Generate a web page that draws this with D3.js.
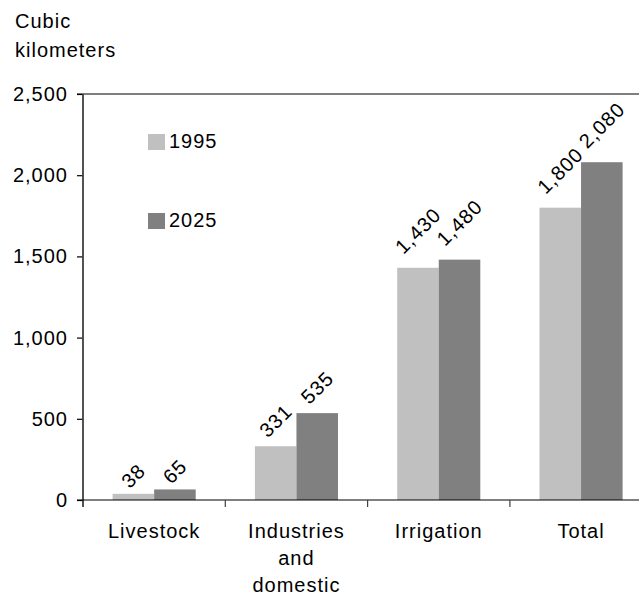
<!DOCTYPE html>
<html>
<head>
<meta charset="utf-8">
<script src="https://cdn.jsdelivr.net/npm/d3@7"></script>
<style>
  body { margin: 0; background: #fff; }
  svg text { font-family: "Liberation Sans", Arial, sans-serif; font-size: 20px; letter-spacing: 1px; fill: #000; }
</style>
</head>
<body>
<div id="chart"></div>
<script>
// data
const categories = [['Livestock'], ['Industries', 'and', 'domestic'], ['Irrigation'], ['Total']]
const years = ['1995', '2025']
const values1995 = [38, 331, 1430, 1800]
const values2025 = [65, 535, 1480, 2080]
const yTicks = [0, 500, 1000, 1500, 2000, 2500]
const colors = ['#c0c0c0', '#808080']

const width = 639
const height = 596
const margin = { top: 94, left: 83, bottom: 96 }
const bandWidth = 142.3

const svg = d3.select('#chart')
  .append('svg')
  .attr('width', width)
  .attr('height', height)

const catKeys = categories.map((d) => d.join(' '))

const x = d3.scaleBand()
  .domain(catKeys)
  .range([margin.left, margin.left + bandWidth * catKeys.length])

const x1 = d3.scaleBand()
  .domain(years)
  .range([29.6, bandWidth - 29.6])

const y = d3.scaleLinear()
  .domain([0, 2500])
  .range([height - margin.bottom, margin.top])

const fmt = d3.format(',')

// top border of plot area
svg.append('line')
  .attr('x1', margin.left - 6)
  .attr('x2', width)
  .attr('y1', y(2500))
  .attr('y2', y(2500))
  .attr('stroke', '#000')
  .attr('stroke-width', 1.2)

// bars
const rows = catKeys.map((c, i) => ({ cat: c, vals: [values1995[i], values2025[i]] }))

const groups = svg.append('g')
  .selectAll('g')
  .data(rows)
  .join('g')
  .attr('transform', (d) => `translate(${x(d.cat)},0)`)

groups.selectAll('rect')
  .data((d) => d.vals.map((v, j) => ({ year: years[j], v, j })))
  .join('rect')
  .attr('x', (d) => x1(d.year))
  .attr('width', x1.bandwidth())
  .attr('y', (d) => y(d.v))
  .attr('height', (d) => y(0) - y(d.v))
  .attr('fill', (d) => colors[d.j])

// rotated value labels
groups.selectAll('text.val')
  .data((d) => d.vals.map((v, j) => ({ year: years[j], v, j })))
  .join('text')
  .attr('class', 'val')
  .attr('text-anchor', 'middle')
  .attr('dominant-baseline', 'central')
  .text((d) => fmt(d.v))
  .each(function (d) {
    const len = this.getComputedTextLength()
    const cx = x1(d.year) + x1.bandwidth() / 2
    const cy = y(d.v) - (3 + 0.62 * len)
    d3.select(this).attr('transform', `translate(${cx},${cy}) rotate(-45)`)
  })

// y axis
const yAxis = d3.axisLeft(y)
  .tickValues(yTicks)
  .tickSize(6)
  .tickPadding(9)
  .tickFormat(fmt)

const yG = svg.append('g')
  .attr('transform', `translate(${margin.left},0)`)
  .call(yAxis)
yG.select('.domain').remove()
yG.selectAll('.tick line').attr('stroke', '#000').attr('stroke-width', 1.2)
yG.selectAll('.tick text').attr('font-size', null).attr('font-family', null)

svg.append('line')
  .attr('x1', margin.left)
  .attr('x2', margin.left)
  .attr('y1', y(2500))
  .attr('y2', y(0) + 7)
  .attr('stroke', '#404040')
  .attr('stroke-width', 1.8)

// x axis baseline and category ticks
svg.append('line')
  .attr('x1', margin.left - 6)
  .attr('x2', width)
  .attr('y1', y(0))
  .attr('y2', y(0))
  .attr('stroke', '#000')
  .attr('stroke-width', 1.2)

svg.append('g')
  .selectAll('line')
  .data(catKeys.slice(1))
  .join('line')
  .attr('x1', (d) => x(d))
  .attr('x2', (d) => x(d))
  .attr('y1', y(0))
  .attr('y2', y(0) + 7)
  .attr('stroke', '#404040')
  .attr('stroke-width', 1.2)

// category labels
svg.append('g')
  .selectAll('text')
  .data(categories)
  .join('text')
  .attr('text-anchor', 'middle')
  .attr('x', (d) => x(d.join(' ')) + bandWidth / 2)
  .attr('y', y(0) + 38)
  .selectAll('tspan')
  .data((d) => d)
  .join('tspan')
  .attr('x', function () { return d3.select(this.parentNode).attr('x') })
  .attr('dy', (d, i) => (i === 0 ? 0 : 27))
  .text((d) => d)

// axis title
svg.append('text').attr('x', 15).attr('y', 28).text('Cubic')
svg.append('text').attr('x', 15).attr('y', 57).text('kilometers')

// legend
const legend = svg.append('g')
  .selectAll('g')
  .data(years)
  .join('g')
  .attr('transform', (d, i) => `translate(148,${134 + i * 79})`)

legend.append('rect')
  .attr('width', 17)
  .attr('height', 16)
  .attr('fill', (d, i) => colors[i])

legend.append('text')
  .attr('x', 21)
  .attr('y', 14)
  .text((d) => d)
</script>
</body>
</html>
